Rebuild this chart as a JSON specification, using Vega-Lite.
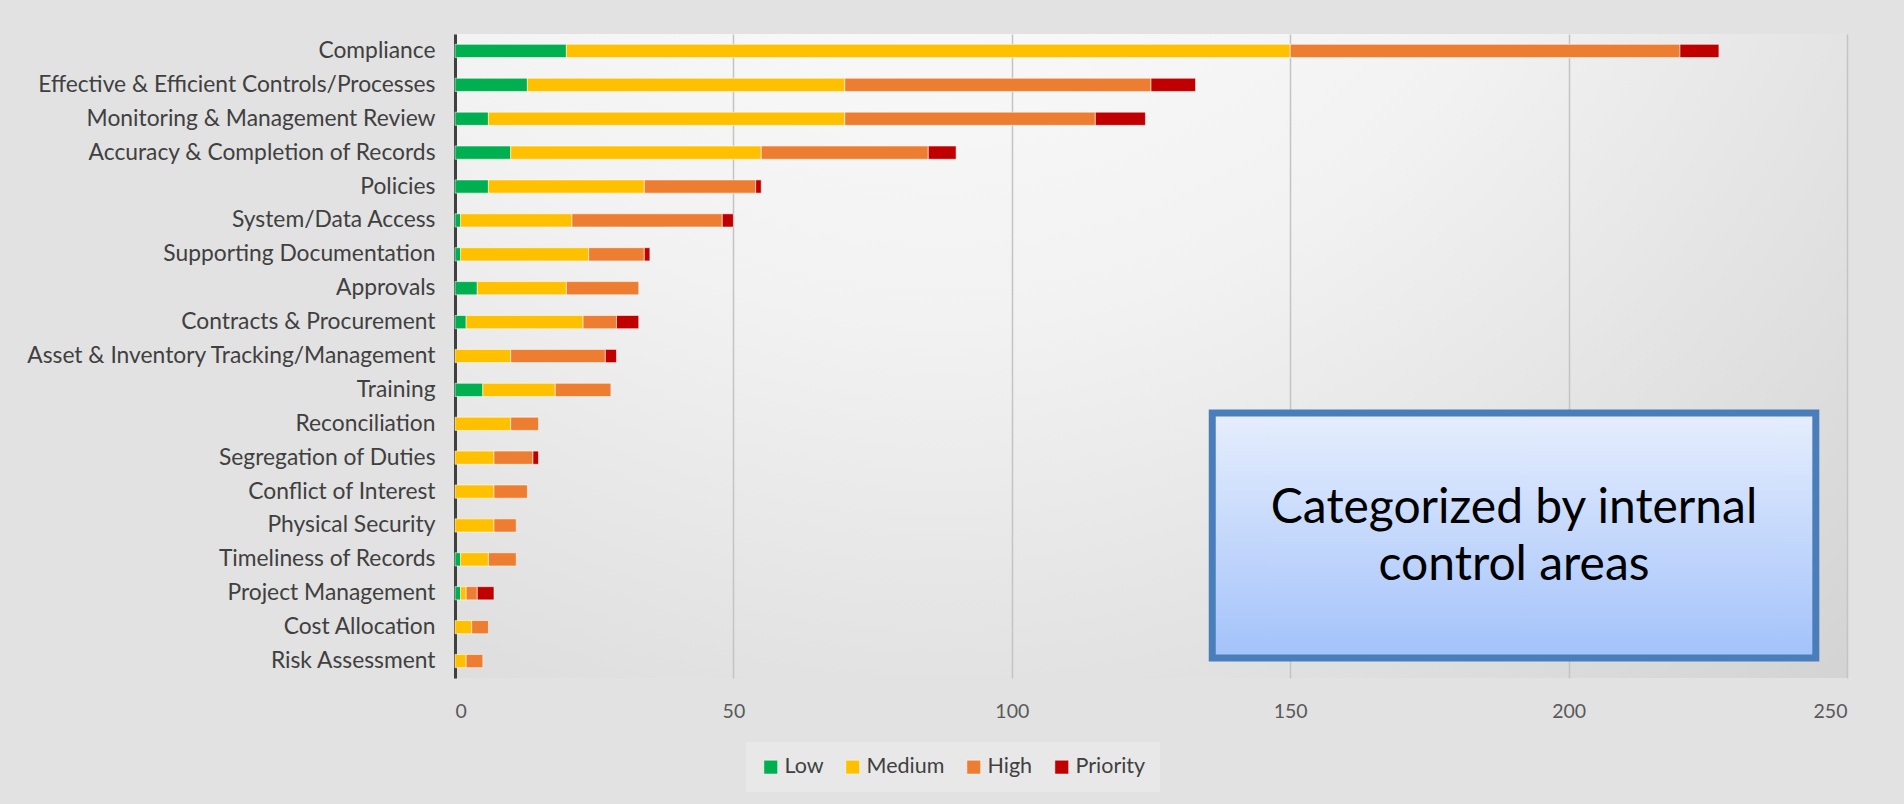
{
  "$schema": "https://vega.github.io/schema/vega-lite/v6.json",
  "width": 1392,
  "height": 644,
  "autosize": {"type": "none"},
  "padding": {"left": 455, "top": 34, "right": 57, "bottom": 126},
  "background": "#e2e2e2",
  "config": {
    "font": "Lato",
    "view": {
      "stroke": null,
      "fill": {
        "gradient": "radial",
        "x1": 0.35, "y1": 0.0, "r1": 0,
        "x2": 0.35, "y2": 0.0, "r2": 1.05,
        "stops": [
          {"offset": 0, "color": "#ffffff"},
          {"offset": 0.45, "color": "#f2f2f2"},
          {"offset": 1, "color": "#cfcfcf"}
        ]
      }
    }
  },
  "resolve": {"scale": {"y": "independent"}},
  "layer": [
    {
      "data": {
        "values": [
          {"area": "Compliance", "Low": 20, "Medium": 130, "High": 70, "Priority": 7},
          {"area": "Effective & Efficient Controls/Processes", "Low": 13, "Medium": 57, "High": 55, "Priority": 8},
          {"area": "Monitoring & Management Review", "Low": 6, "Medium": 64, "High": 45, "Priority": 9},
          {"area": "Accuracy & Completion of Records", "Low": 10, "Medium": 45, "High": 30, "Priority": 5},
          {"area": "Policies", "Low": 6, "Medium": 28, "High": 20, "Priority": 1},
          {"area": "System/Data Access", "Low": 1, "Medium": 20, "High": 27, "Priority": 2},
          {"area": "Supporting Documentation", "Low": 1, "Medium": 23, "High": 10, "Priority": 1},
          {"area": "Approvals", "Low": 4, "Medium": 16, "High": 13, "Priority": 0},
          {"area": "Contracts & Procurement", "Low": 2, "Medium": 21, "High": 6, "Priority": 4},
          {"area": "Asset & Inventory Tracking/Management", "Low": 0, "Medium": 10, "High": 17, "Priority": 2},
          {"area": "Training", "Low": 5, "Medium": 13, "High": 10, "Priority": 0},
          {"area": "Reconciliation", "Low": 0, "Medium": 10, "High": 5, "Priority": 0},
          {"area": "Segregation of Duties", "Low": 0, "Medium": 7, "High": 7, "Priority": 1},
          {"area": "Conflict of Interest", "Low": 0, "Medium": 7, "High": 6, "Priority": 0},
          {"area": "Physical Security", "Low": 0, "Medium": 7, "High": 4, "Priority": 0},
          {"area": "Timeliness of Records", "Low": 1, "Medium": 5, "High": 5, "Priority": 0},
          {"area": "Project Management", "Low": 1, "Medium": 1, "High": 2, "Priority": 3},
          {"area": "Cost Allocation", "Low": 0, "Medium": 3, "High": 3, "Priority": 0},
          {"area": "Risk Assessment", "Low": 0, "Medium": 2, "High": 3, "Priority": 0}
        ]
      },
      "transform": [
        {"fold": ["Low", "Medium", "High", "Priority"], "as": ["level", "count"]},
        {"filter": "datum.count > 0"},
        {"calculate": "indexof(['Low','Medium','High','Priority'], datum.level)", "as": "rank"}
      ],
      "mark": {"type": "bar", "stroke": "#ffffff", "strokeWidth": 1, "strokeOpacity": 0.55},
      "encoding": {
        "y": {
          "field": "area", "type": "nominal", "sort": null,
          "scale": {"paddingInner": 0.61, "paddingOuter": 0.305},
          "axis": {
            "title": null, "ticks": false, "labelPadding": 20, "labelFontSize": 22.8,
            "labelColor": "#404040", "labelLimit": 600, "domainColor": "#404040",
            "domainWidth": 3, "grid": false
          }
        },
        "x": {
          "field": "count", "type": "quantitative", "stack": "zero",
          "scale": {"domain": [0, 250], "nice": false},
          "axis": {
            "title": null, "values": [0, 50, 100, 150, 200, 250], "ticks": false,
            "domain": false, "labelFontSize": 19.5, "labelColor": "#595959",
            "labelPadding": 24, "gridColor": "#c4c4c4", "gridWidth": 1.5
          }
        },
        "color": {
          "field": "level", "type": "nominal",
          "scale": {"domain": ["Low", "Medium", "High", "Priority"], "range": ["#00b050", "#ffc000", "#ed7d31", "#c00000"]},
          "legend": {
            "orient": "none", "legendX": 291, "legendY": 708, "direction": "horizontal",
            "title": null, "symbolType": "square", "symbolSize": 190,
            "symbolStrokeColor": "#ffffff", "symbolStrokeWidth": 0.5,
            "labelFontSize": 21.5, "labelColor": "#404040", "columnPadding": 18,
            "labelOffset": 3, "fillColor": "#e8e8e8", "padding": 14
          }
        },
        "order": {"field": "rank", "type": "quantitative"}
      }
    },
    {
      "data": {"values": [{"label": "Categorized by internal\ncontrol areas"}]},
      "mark": {
        "type": "rect",
        "fill": {
          "gradient": "linear", "x1": 0, "y1": 0, "x2": 0, "y2": 1,
          "stops": [{"offset": 0, "color": "#e6eefd"}, {"offset": 1, "color": "#a3c2fa"}]
        },
        "stroke": "#4a7ebb", "strokeWidth": 7
      },
      "encoding": {
        "x": {"datum": 136.0, "type": "quantitative"},
        "x2": {"datum": 244.4},
        "y": {"datum": 11.18, "type": "quantitative", "scale": {"domain": [0, 19], "reverse": true}, "axis": null},
        "y2": {"datum": 18.41}
      }
    },
    {
      "data": {"values": [{"label": "Categorized by internal\ncontrol areas"}]},
      "mark": {
        "type": "text", "lineBreak": "\n", "fontSize": 48, "lineHeight": 57,
        "color": "#000000", "align": "center", "baseline": "middle"
      },
      "encoding": {
        "x": {"datum": 190.2, "type": "quantitative"},
        "y": {"datum": 14.0, "type": "quantitative", "scale": {"domain": [0, 19], "reverse": true}, "axis": null},
        "text": {"field": "label", "type": "nominal"}
      }
    }
  ]
}
